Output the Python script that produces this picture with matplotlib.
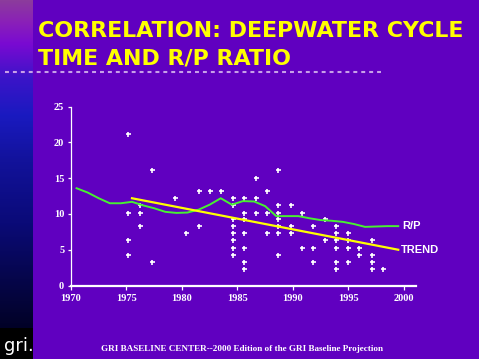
import numpy as np
import matplotlib
matplotlib.use("Agg")
import matplotlib.pyplot as plt
from matplotlib.colors import LinearSegmentedColormap
from matplotlib.lines import Line2D
from matplotlib.patches import Rectangle

# ---------------- data ----------------
rp_years = list(range(1970, 2000))
rp_values = [13.6, 13.0, 12.2, 11.5, 11.5, 11.7, 11.2, 10.8, 10.3, 10.15,
             10.2, 10.6, 11.3, 12.2, 11.3, 11.8, 11.75, 11.1, 9.7, 9.7,
             9.7, 9.4, 9.15, 9.05, 8.9, 8.6, 8.2, 8.25, 8.3, 8.3]

trend_years = [1975.5, 1999.5]
trend_values = [12.2, 5.0]

scatter_x = (
    [1975.15] * 4 + [1976.2] * 3 + [1977.3] * 2 + [1979.4] + [1980.4]
    + [1981.5] * 2 + [1982.5] + [1983.5] + [1984.6] * 8 + [1985.6] * 7
    + [1986.7] * 3 + [1987.7] * 3 + [1988.7] * 7 + [1989.8] * 3
    + [1990.8] * 2 + [1991.8] * 3 + [1992.9] * 2 + [1993.9] * 6
    + [1995.0] * 4 + [1996.0] * 2 + [1997.1] * 4 + [1998.1]
)
scatter_y = (
    [21.2, 10.2, 6.3, 4.3] + [11.2, 10.2, 8.3] + [16.2, 3.3] + [12.2] + [7.3]
    + [13.2, 8.3] + [13.2] + [13.2]
    + [12.2, 11.2, 9.3, 8.3, 7.3, 6.3, 5.2, 4.3]
    + [12.2, 10.2, 9.3, 7.3, 5.2, 3.3, 2.3]
    + [15.1, 12.2, 10.2] + [13.2, 10.2, 7.3]
    + [16.2, 11.2, 10.2, 9.3, 8.3, 7.3, 4.3] + [11.2, 8.3, 7.3]
    + [10.2, 5.2] + [8.3, 5.2, 3.3] + [9.3, 6.3]
    + [8.3, 7.3, 6.3, 5.2, 3.3, 2.3]
    + [7.3, 6.3, 5.2, 3.3] + [5.2, 4.3] + [6.3, 4.3, 3.3, 2.3] + [2.3]
)

x_ticks = [1970, 1975, 1980, 1985, 1990, 1995, 2000]
y_ticks = [0, 5, 10, 15, 20, 25]

title_lines = ["CORRELATION: DEEPWATER CYCLE", "TIME AND R/P RATIO"]
footer = "GRI BASELINE CENTER--2000 Edition of the GRI Baseline Projection"

# ---------------- figure ----------------
W, H = 479, 359
BG = "#6000C0"
fig = plt.figure(figsize=(W / 100, H / 100), dpi=100, facecolor=BG)

# left gradient sidebar
sb = fig.add_axes([0, 0, 33 / W, 1])
sb.set_axis_off()
cmap = LinearSegmentedColormap.from_list(
    "side",
    [(0.0, "#8C3C9C"), (0.06, "#8A20B8"), (0.12, "#7A0AD2"),
     (0.22, "#3A14C8"), (0.32, "#1A1AC0"), (0.45, "#12129A"),
     (0.62, "#0A0A78"), (0.78, "#06064A"), (0.9, "#02022A"), (1.0, "#000010")])
grad = np.linspace(0, 1, 256).reshape(-1, 1)
sb.imshow(grad, aspect="auto", cmap=cmap, extent=[0, 1, 1, 0])
sb.set_xlim(0, 1)
sb.set_ylim(1, 0)

# logo
fig.patches.append(Rectangle((0, 0), 33 / W, 31 / H, transform=fig.transFigure,
                             facecolor="black", edgecolor="none", zorder=2))
fig.text(4 / W, 1 - 351 / H, "gri.", color="white", fontsize=13,
         family="DejaVu Sans Condensed", va="baseline", ha="left", zorder=3)

# title
for i, line in enumerate(title_lines):
    fig.text(38 / W, 1 - (37.3 + 27.7 * i) / H, line, color="#FFFF00",
             fontsize=15.9, family="DejaVu Sans", weight="bold",
             va="baseline", ha="left")

# dotted rule
fig.add_artist(Line2D([5 / W, 381 / W], [1 - 71.5 / H, 1 - 71.5 / H],
                      transform=fig.transFigure, color="#C8A0E8", lw=1.5,
                      linestyle=(0, (1.9, 1.9))))

# main axes
ax = fig.add_axes([71 / W, (H - 285.5) / H, 345 / W, 178.8 / H])
ax.set_facecolor(BG)
ax.set_xlim(1970, 2001.1)
ax.set_ylim(0, 25)

ax.plot(scatter_x, scatter_y, linestyle="none", marker="+", color="white",
        markersize=3.6, markeredgewidth=1.2, zorder=2)
ax.plot(np.array(rp_years) + 0.5, rp_values, color="#48F030", lw=1.4, zorder=3)
ax.plot(trend_years, trend_values, color="#FFFF00", lw=1.6, zorder=3)

ax.annotate("R/P", xy=(rp_years[-1] + 0.5, rp_values[-1]), xytext=(3, 0),
            textcoords="offset points", color="white", fontsize=8,
            family="Liberation Sans", weight="bold", va="center", ha="left",
            annotation_clip=False)
ax.annotate("TREND", xy=(trend_years[-1], trend_values[-1]), xytext=(2, 0),
            textcoords="offset points", color="white", fontsize=8,
            family="Liberation Sans", weight="bold", va="center", ha="left",
            annotation_clip=False)

for s in ("top", "right"):
    ax.spines[s].set_visible(False)
ax.spines["left"].set_color("white")
ax.spines["left"].set_linewidth(0.9)
ax.spines["bottom"].set_color("white")
ax.spines["bottom"].set_linewidth(1.6)

ax.set_xticks(x_ticks)
ax.set_yticks(y_ticks)
ax.tick_params(axis="y", direction="out", length=2.4, width=0.9,
               colors="white", pad=2.5)
ax.tick_params(axis="x", direction="out", length=3, width=0.9,
               colors="white", pad=3)
for lab in ax.get_xticklabels() + ax.get_yticklabels():
    lab.set_family("Liberation Serif")
    lab.set_weight("bold")
    lab.set_fontsize(7.5)

# footer
fig.text(242 / W, 1 - 349 / H, footer, color="white", fontsize=6.6,
         family="Liberation Serif", weight="bold", ha="center", va="center")

fig.savefig("out.png", dpi=100, facecolor=BG)
